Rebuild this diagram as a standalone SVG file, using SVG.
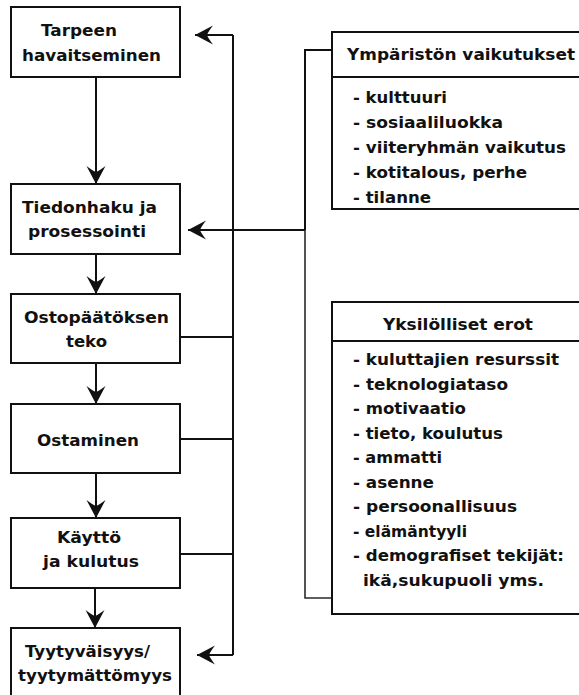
<svg xmlns="http://www.w3.org/2000/svg" width="579" height="695" viewBox="0 0 579 695">
<style>
.box{fill:#fff;stroke:#111;stroke-width:2}
.t{font-family:"DejaVu Sans",sans-serif;font-weight:bold;font-size:16.5px;fill:#111}
.s{font-family:"DejaVu Sans",sans-serif;font-weight:bold;font-size:15.5px;fill:#111}
.ln{fill:none;stroke:#111;stroke-width:2}
.lg{fill:none;stroke:#2a2a2a;stroke-width:1.6}
</style>
<defs>
<marker id="ah" markerUnits="userSpaceOnUse" viewBox="0 -10 18 20" refX="18" refY="0" markerWidth="18" markerHeight="20" orient="auto">
<path d="M18,0 L0,-9.5 Q5,-3 6,0 Q5,3 0,9.5 Z" fill="#111"/>
</marker>
</defs>
<rect width="579" height="695" fill="#fff"/>
<g id="connectors">
<path class="ln" d="M96,77 V184" marker-end="url(#ah)"/>
<path class="ln" d="M96,254 V294" marker-end="url(#ah)"/>
<path class="ln" d="M96,363 V404" marker-end="url(#ah)"/>
<path class="ln" d="M96,473 V518" marker-end="url(#ah)"/>
<path class="ln" d="M95,588 V628" marker-end="url(#ah)"/>
<path class="ln" d="M180,337 H233 M180,439 H233 M180,554 H233 M233,35 V655"/>
<path class="ln" d="M233,35 H195" marker-end="url(#ah)"/>
<path class="ln" d="M233,655 H197" marker-end="url(#ah)"/>
<path class="ln" d="M332,50 H305 V230"/>
<path class="lg" d="M305,230 V598 H332"/>
<path class="ln" d="M305,230 H188" marker-end="url(#ah)"/>
</g>
<g id="n1">
<rect class="box" x="11" y="7" width="169" height="70"/>
<text class="t" x="41" y="36" textLength="76" lengthAdjust="spacingAndGlyphs">Tarpeen</text>
<text class="t" x="22" y="61" textLength="139" lengthAdjust="spacingAndGlyphs">havaitseminen</text>
</g>
<g id="n2">
<rect class="box" x="11" y="184" width="169" height="70"/>
<text class="t" x="22" y="213" textLength="135" lengthAdjust="spacingAndGlyphs">Tiedonhaku ja</text>
<text class="t" x="28" y="237" textLength="118" lengthAdjust="spacingAndGlyphs">prosessointi</text>
</g>
<g id="n3">
<rect class="box" x="11" y="294" width="169" height="69"/>
<text class="t" x="24" y="323" textLength="145" lengthAdjust="spacingAndGlyphs">Ostopäätöksen</text>
<text class="t" x="66" y="347" textLength="41" lengthAdjust="spacingAndGlyphs">teko</text>
</g>
<g id="n4">
<rect class="box" x="11" y="404" width="169" height="69"/>
<text class="t" x="37" y="446" textLength="102" lengthAdjust="spacingAndGlyphs">Ostaminen</text>
</g>
<g id="n5">
<rect class="box" x="11" y="518" width="169" height="70"/>
<text class="t" x="57" y="543" textLength="64" lengthAdjust="spacingAndGlyphs">Käyttö</text>
<text class="t" x="43" y="567" textLength="96" lengthAdjust="spacingAndGlyphs">ja kulutus</text>
</g>
<g id="n6">
<rect class="box" x="11" y="628" width="169" height="80"/>
<text class="t" x="25" y="657" textLength="125" lengthAdjust="spacingAndGlyphs">Tyytyväisyys/</text>
<text class="t" x="18" y="681" textLength="154" lengthAdjust="spacingAndGlyphs">tyytymättömyys</text>
</g>
<g id="ymparisto">
<rect class="box" x="332" y="32" width="260" height="177"/>
<line class="ln" x1="332" y1="77" x2="592" y2="77"/>
<text class="s" x="347" y="60" textLength="228" lengthAdjust="spacingAndGlyphs">Ympäristön vaikutukset</text>
<text class="s" x="353" y="103" textLength="94" lengthAdjust="spacingAndGlyphs">- kulttuuri</text>
<text class="s" x="353" y="128" textLength="150" lengthAdjust="spacingAndGlyphs">- sosiaaliluokka</text>
<text class="s" x="353" y="153" textLength="213" lengthAdjust="spacingAndGlyphs">- viiteryhmän vaikutus</text>
<text class="s" x="353" y="178" textLength="174" lengthAdjust="spacingAndGlyphs">- kotitalous, perhe</text>
<text class="s" x="353" y="203" textLength="78" lengthAdjust="spacingAndGlyphs">- tilanne</text>
</g>
<g id="yksilolliset">
<rect class="box" x="332" y="302" width="260" height="312"/>
<line class="ln" x1="332" y1="341" x2="592" y2="341"/>
<text class="s" x="383" y="330" textLength="150" lengthAdjust="spacingAndGlyphs">Yksilölliset erot</text>
<text class="s" x="353" y="365" textLength="206" lengthAdjust="spacingAndGlyphs">- kuluttajien resurssit</text>
<text class="s" x="353" y="389.5" textLength="155" lengthAdjust="spacingAndGlyphs">- teknologiataso</text>
<text class="s" x="353" y="414" textLength="113" lengthAdjust="spacingAndGlyphs">- motivaatio</text>
<text class="s" x="353" y="438.5" textLength="150" lengthAdjust="spacingAndGlyphs">- tieto, koulutus</text>
<text class="s" x="353" y="463" textLength="89" lengthAdjust="spacingAndGlyphs">- ammatti</text>
<text class="s" x="353" y="487.5" textLength="81" lengthAdjust="spacingAndGlyphs">- asenne</text>
<text class="s" x="353" y="512" textLength="164" lengthAdjust="spacingAndGlyphs">- persoonallisuus</text>
<text class="s" x="353" y="536.5" textLength="114" lengthAdjust="spacingAndGlyphs">- elämäntyyli</text>
<text class="s" x="353" y="561" textLength="211" lengthAdjust="spacingAndGlyphs">- demografiset tekijät:</text>
<text class="s" x="363" y="585.5" textLength="181" lengthAdjust="spacingAndGlyphs">ikä,sukupuoli yms.</text>
</g>
</svg>
